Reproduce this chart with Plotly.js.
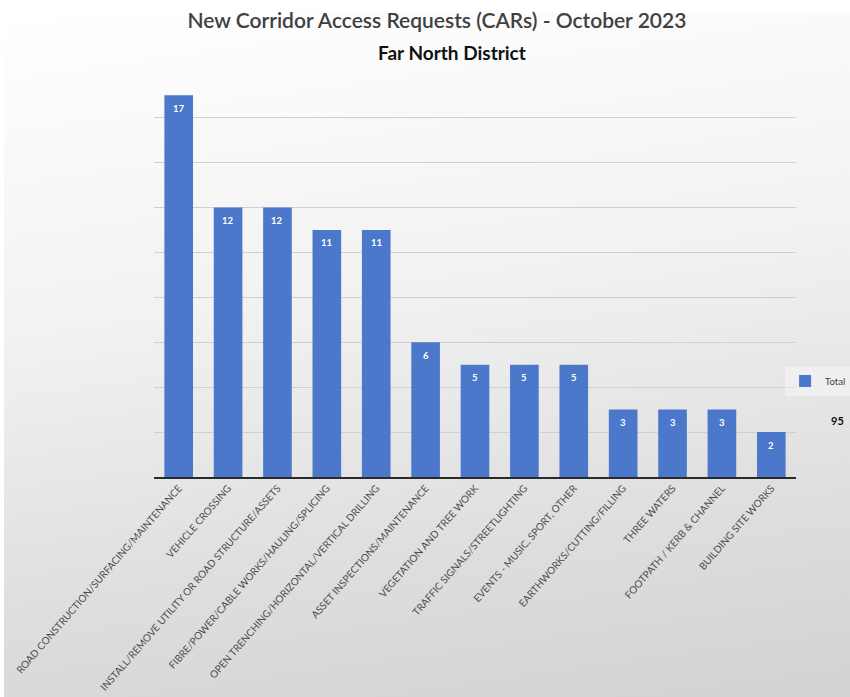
<!DOCTYPE html>
<html>
<head>
<meta charset="utf-8">
<script src="https://cdn.plot.ly/plotly-3.0.1.min.js"></script>
<style>
  html, body { margin: 0; padding: 0; background: #ffffff; }
  #bg { position: absolute; left: 4px; top: 13px; width: 846px; height: 684px;
        background: linear-gradient(172deg, #ffffff 0%, #f2f2f2 40%, #dedede 75%, #d2d2d2 100%); }
  #chart { position: absolute; left: 0; top: 0; width: 850px; height: 697px; }
</style>
</head>
<body>
<div id="bg"></div>
<div id="chart"></div>
<script>
const categories = [
  "ROAD CONSTRUCTION/SURFACING/MAINTENANCE",
  "VEHICLE CROSSING",
  "INSTALL/REMOVE UTILITY OR ROAD STRUCTURE/ASSETS",
  "FIBRE/POWER/CABLE WORKS/HAULING/SPLICING",
  "OPEN TRENCHING/HORIZONTAL/VERTICAL DRILLING",
  "ASSET INSPECTIONS/MAINTENANCE",
  "VEGETATION AND TREE WORK",
  "TRAFFIC SIGNALS/STREETLIGHTING",
  "EVENTS - MUSIC, SPORT, OTHER",
  "EARTHWORKS/CUTTING/FILLING",
  "THREE WATERS",
  "FOOTPATH / KERB & CHANNEL",
  "BUILDING SITE WORKS"
];
const totals = [17, 12, 12, 11, 11, 6, 5, 5, 5, 3, 3, 3, 2];
const seriesName = "Total";
const grandTotal = 95;
const chartTitle = "New Corridor Access Requests (CARs) - October 2023";
const chartSubtitle = "Far North District";

const barColor = "#4c78cb";

const valueAnnotations = categories.map((c, i) => ({
  x: c, y: totals[i], xref: "x", yref: "y",
  text: "<b>" + totals[i] + "</b>", showarrow: false,
  yanchor: "middle", yshift: -13,
  font: { family: "Lato, 'Liberation Sans Narrow', sans-serif", size: 9.5, color: "#ffffff" }
}));

const data = [{
  type: "bar",
  x: categories,
  y: totals,
  name: seriesName,
  marker: { color: barColor },
  showlegend: true,
  hoverinfo: "x+y"
}];

const layout = {
  width: 850, height: 697,
  paper_bgcolor: "rgba(0,0,0,0)",
  plot_bgcolor: "rgba(0,0,0,0)",
  margin: { l: 154, r: 54, t: 72, b: 220, pad: 0, autoexpand: false },
  bargap: 0.42,
  title: {
    text: chartTitle,
    x: 0.514, xanchor: "center",
    y: 1 - 21 / 697, yanchor: "middle",
    font: { family: "Lato, 'Open Sans', sans-serif", size: 21, color: "#404040", weight: 600 }
  },
  xaxis: {
    type: "category",
    tickangle: -49,
    ticks: "",
    showline: true, linecolor: "#2a2a2a", linewidth: 1.5,
    showgrid: false,
    tickfont: { family: "Lato, 'Liberation Sans Narrow', sans-serif", size: 10, color: "#4a4a4a" },
    automargin: false
  },
  yaxis: {
    range: [0, 18.03],
    dtick: 2,
    showticklabels: false,
    ticks: "",
    showgrid: true, gridcolor: "#d0d0d0", gridwidth: 1,
    zeroline: false,
    showline: false,
    fixedrange: true
  },
  legend: {
    x: 0.983, xanchor: "left",
    xref: "paper",
    y: 1 - (381 - 72) / 405, yanchor: "middle",
    bgcolor: "rgba(255,255,255,0.35)",
    font: { family: "Lato, 'Liberation Sans Narrow', sans-serif", size: 9.5, color: "#404040" },
    itemwidth: 30,
    tracegroupgap: 0
  },
  annotations: [
    {
      text: "<b>" + chartSubtitle + "</b>",
      xref: "paper", yref: "paper",
      x: (452 - 154) / 642, y: 1 + 20 / 405, xanchor: "center", yanchor: "middle",
      showarrow: false,
      font: { family: "Lato, 'Open Sans', sans-serif", size: 19, color: "#111111" }
    },
    {
      text: "<b>" + grandTotal + "</b>",
      xref: "paper", yref: "paper",
      x: 1 + (838 - 796) / 642, y: 1 - (420 - 72) / 405,
      xanchor: "center", yanchor: "middle",
      showarrow: false,
      font: { family: "Lato, 'Open Sans', sans-serif", size: 11, color: "#111111" }
    }
  ].concat(valueAnnotations)
};

Plotly.newPlot("chart", data, layout, { displayModeBar: false, staticPlot: true });
</script>
</body>
</html>
